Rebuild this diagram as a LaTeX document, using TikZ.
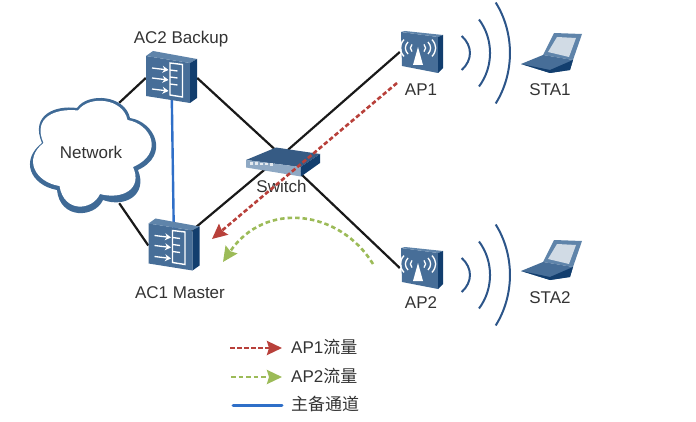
\documentclass[tikz,border=0pt]{standalone}
\usepackage{fontspec}
\setmainfont{Liberation Sans}
\newfontfamily\cjk{Noto Sans CJK SC}
\usetikzlibrary{positioning,arrows.meta}
\definecolor{palBlue}{HTML}{2F6FC8}
\definecolor{palFace}{HTML}{476E98}
\definecolor{palTop}{HTML}{5F84AA}
\definecolor{palSide}{HTML}{123E6E}
\definecolor{palWave}{HTML}{2C5589}
\definecolor{palCloud}{HTML}{3F6A96}
\definecolor{palRed}{HTML}{B8403A}
\definecolor{palGreen}{HTML}{9CBB58}
\definecolor{palText}{HTML}{333333}
\tikzset{
  devnode/.style={inner sep=0pt, minimum width=#1},
  lblnode/.style={inner sep=0pt, text=palText, font=\fontsize{17}{19}\selectfont,
                  text height=12pt, text depth=3.5pt},
  lgtext/.style={lblnode, anchor=west},
  linkline/.style={line width=2.2pt, black!90},
  backupline/.style={line width=2.4pt, palBlue, line cap=round},
  flowred/.style={line width=2.6pt, palRed, dash pattern=on 4.5pt off 2.5pt,
                  -{Stealth[length=15pt, width=14pt, inset=2pt]}},
  flowgreen/.style={line width=2.6pt, palGreen, dash pattern=on 4.5pt off 3pt,
                    -{Stealth[length=15pt, width=14pt, inset=2pt]}},
  accard/.pic={
    \fill[palFace] (-25.5,-22) -- (18.5,-15) -- (18.5,25) -- (-25.5,18) -- cycle;
    \fill[palTop] (-25.5,-22) -- (-18.5,-27) -- (25.5,-19) -- (18.5,-15) -- cycle;
    \fill[palSide] (18.5,-15) -- (25.5,-19) -- (25.5,20) -- (18.5,25) -- cycle;
    \draw[white, line width=1.4pt] (-1.5,-15) -- (11,-13.5) -- (11,19) -- (-1.5,17) -- cycle;
    \foreach \i in {-8,-1,6}{
      \draw[white, line width=1.3pt] (-1.5,\i) -- (6,\i+1);
    }
    \foreach \i in {-10,0,11}{
      \draw[white, line width=1.3pt, -{Stealth[length=6pt, width=7pt]}] (-19.5,\i) -- (-3,\i+2);
    }
  },
  apcard/.pic={
    \fill[palFace] (-20,-20) -- (17,-15) -- (17,21) -- (-19,14) -- cycle;
    \fill[palTop] (-20,-20) -- (-16,-21) -- (22,-17) -- (17,-15) -- cycle;
    \fill[palSide] (17,-15) -- (22,-17) -- (22,16) -- (17,21) -- cycle;
    \fill[white] (-3,-5) -- (-8,13) -- (2,13) -- cycle;
    \foreach \r in {6,10,14}{
      \draw[white, line width=1.3pt] (-3-\r,-4-\r*.6) .. controls (-3-1.35*\r,-4-\r*.2) and (-3-1.35*\r,-4+\r*.2) .. (-3-\r,-4+\r*.6);
      \draw[white, line width=1.3pt] (-3+\r,-4-\r*.6) .. controls (-3+1.35*\r,-4-\r*.2) and (-3+1.35*\r,-4+\r*.2) .. (-3+\r,-4+\r*.6);
    }
  },
  swcard/.pic={
    \fill[palSide!85!white] (-35.5,4.5) -- (-5.5,-8) -- (38.5,-1.5) -- (19,11.5) -- cycle;
    \fill[palTop!70!white] (-35.5,4.5) -- (19,11.5) -- (19.5,21) -- (-35.5,12) -- cycle;
    \fill[palSide] (19,11.5) -- (38.5,-1.5) -- (38.5,7.5) -- (19.5,21) -- cycle;
    \foreach \i in {-32,-27,...,-8}{
      \fill[white!85!palFace] (\i,7+\i*.06+1.5) rectangle +(3,2.5);
    }
  },
  wavefan/.pic={
    \draw[palWave, line width=2pt] (40.7,-17) .. controls (51.7,-7) and (51.7,7) .. (40.7,17);
    \draw[palWave, line width=2pt] (58,-33.5) .. controls (72.7,-14) and (72.7,14) .. (58,33.5);
    \draw[palWave, line width=2pt] (74.7,-50.5) .. controls (93.7,-20) and (93.7,20) .. (74.7,50.5);
  },
  lapcard/.pic={
    \fill[palTop] (7,-20) -- (35,-19) -- (26,7) -- (-4,2) -- cycle;
    \fill[white!75!palFace] (10,-16) -- (29,-15) -- (22,4) -- (1,-1) -- cycle;
    \fill[palFace] (-26,11) -- (-4,2) -- (26,7) -- (23,17) -- (3,20) -- cycle;
    \fill[palSide] (-26,11) -- (3,17) -- (26,7) -- (23,17) -- (3,20) -- cycle;
  },
}
\begin{document}
\begin{tikzpicture}[x=1pt, y=-1pt]
\useasboundingbox (0,0) rectangle (696,422);
%% Nodes
\node[devnode=51pt, minimum height=52pt] (AC2) at (171.5,78) {};
\node[devnode=51pt, minimum height=52pt] (AC1) at (174,245.5) {};
\node[devnode=0pt] (Switch) at (281.5,155.5) {};
\node[devnode=42pt, minimum height=40pt] (AP1) at (421,52) {};
\node[devnode=42pt, minimum height=40pt] (AP2) at (421,268) {};
\node[devnode=54pt, minimum height=40pt] (STA1) at (547,53) {};
\node[devnode=54pt, minimum height=40pt] (STA2) at (547,260) {};
\node[devnode=56pt, minimum height=100pt] (Network) at (91,153) {};
\coordinate (redFrom) at (397,83);
\coordinate (redTo) at (212,239);
\coordinate (greenFrom) at (373,264);
\coordinate (greenTo) at (223,262);
%% Edges
\draw[linkline] (AC2.west) -- (Network.north east);
\draw[linkline] (Network.south east) -- (AC1.west);
\draw[linkline] (AC2.east) -- (Switch);
\draw[linkline] (AC1.center) -- (Switch);
\draw[linkline] (Switch) -- (AP1.west);
\draw[linkline] (Switch) -- (AP2.west);
\draw[backupline] (AC2.center) -- (AC1.center);
%% Cloud
\fill[palCloud] (42,143) .. controls (30,115) and (55,105) .. (77,108)
  .. controls (88,92) and (125,95) .. (130,118)
  .. controls (155,122) and (170,155) .. (138,170)
  .. controls (148,195) and (125,208) .. (103,200)
  .. controls (95,218) and (60,220) .. (57,190)
  .. controls (30,185) and (20,160) .. (42,143) -- cycle;
\fill[white] (43.5,143) .. controls (32,117) and (56,108) .. (78,110.5)
  .. controls (89,95) and (123,98) .. (127.5,120)
  .. controls (151,124) and (165,153) .. (133,167)
  .. controls (143,189) and (122,200) .. (100,194)
  .. controls (92,211) and (64,213) .. (59.5,186)
  .. controls (35,182) and (23,159) .. (43.5,143) -- cycle;
%% Devices
\pic at (AC2) {accard};
\pic at (AC1) {accard};
\pic at (AP1) {apcard};
\pic at (AP2) {apcard};
\pic at (Switch) {swcard};
\pic at (421,53) {wavefan};
\pic at (421,275) {wavefan};
\pic at (STA1) {lapcard};
\pic at (STA2) {lapcard};
%% Labels
\node[lblnode, yshift=-1.5pt] at (Network) {Network};
\node[lblnode, above=4.5pt of AC2, xshift=9.5pt] (AC2lbl) {AC2 Backup};
\node[lblnode, below=15pt of AC1, xshift=6pt] (AC1lbl) {AC1 Master};
\node[lblnode, below=24pt of Switch] (Swlbl) {Switch};
\node[lblnode, below=11pt of AP1] (AP1lbl) {AP1};
\node[lblnode, below=8pt of AP2] (AP2lbl) {AP2};
\node[lblnode, below=10pt of STA1, xshift=3pt] (STA1lbl) {STA1};
\node[lblnode, below=11pt of STA2, xshift=3pt] (STA2lbl) {STA2};
%% Traffic
\draw[flowred] (redFrom) -- (redTo);
\draw[flowgreen] (greenFrom) .. controls (340,210) and (265,200) .. (greenTo);
%% Legend
\node[lgtext] (lgRed) at (291,349.5) {AP1{\cjk 流量}};
\node[lgtext, below=29pt of lgRed.west, anchor=west] (lgGreen) {AP2{\cjk 流量}};
\node[lgtext, below=27.5pt of lgGreen.west, anchor=west] (lgBlue) {{\cjk 主备通道}};
\coordinate (lgRedA) at (230,348);
\coordinate (lgGreenA) at (231,377);
\coordinate (lgBlueA) at (233,405);
\draw[flowred, shorten >=9pt] (lgRedA) -- (lgRed.west |- lgRedA);
\draw[flowgreen, shorten >=9pt] (lgGreenA) -- (lgGreen.west |- lgGreenA);
\draw[backupline, line width=3pt, shorten >=9pt] (lgBlueA) -- (lgBlue.west |- lgBlueA);
\end{tikzpicture}
\end{document}
